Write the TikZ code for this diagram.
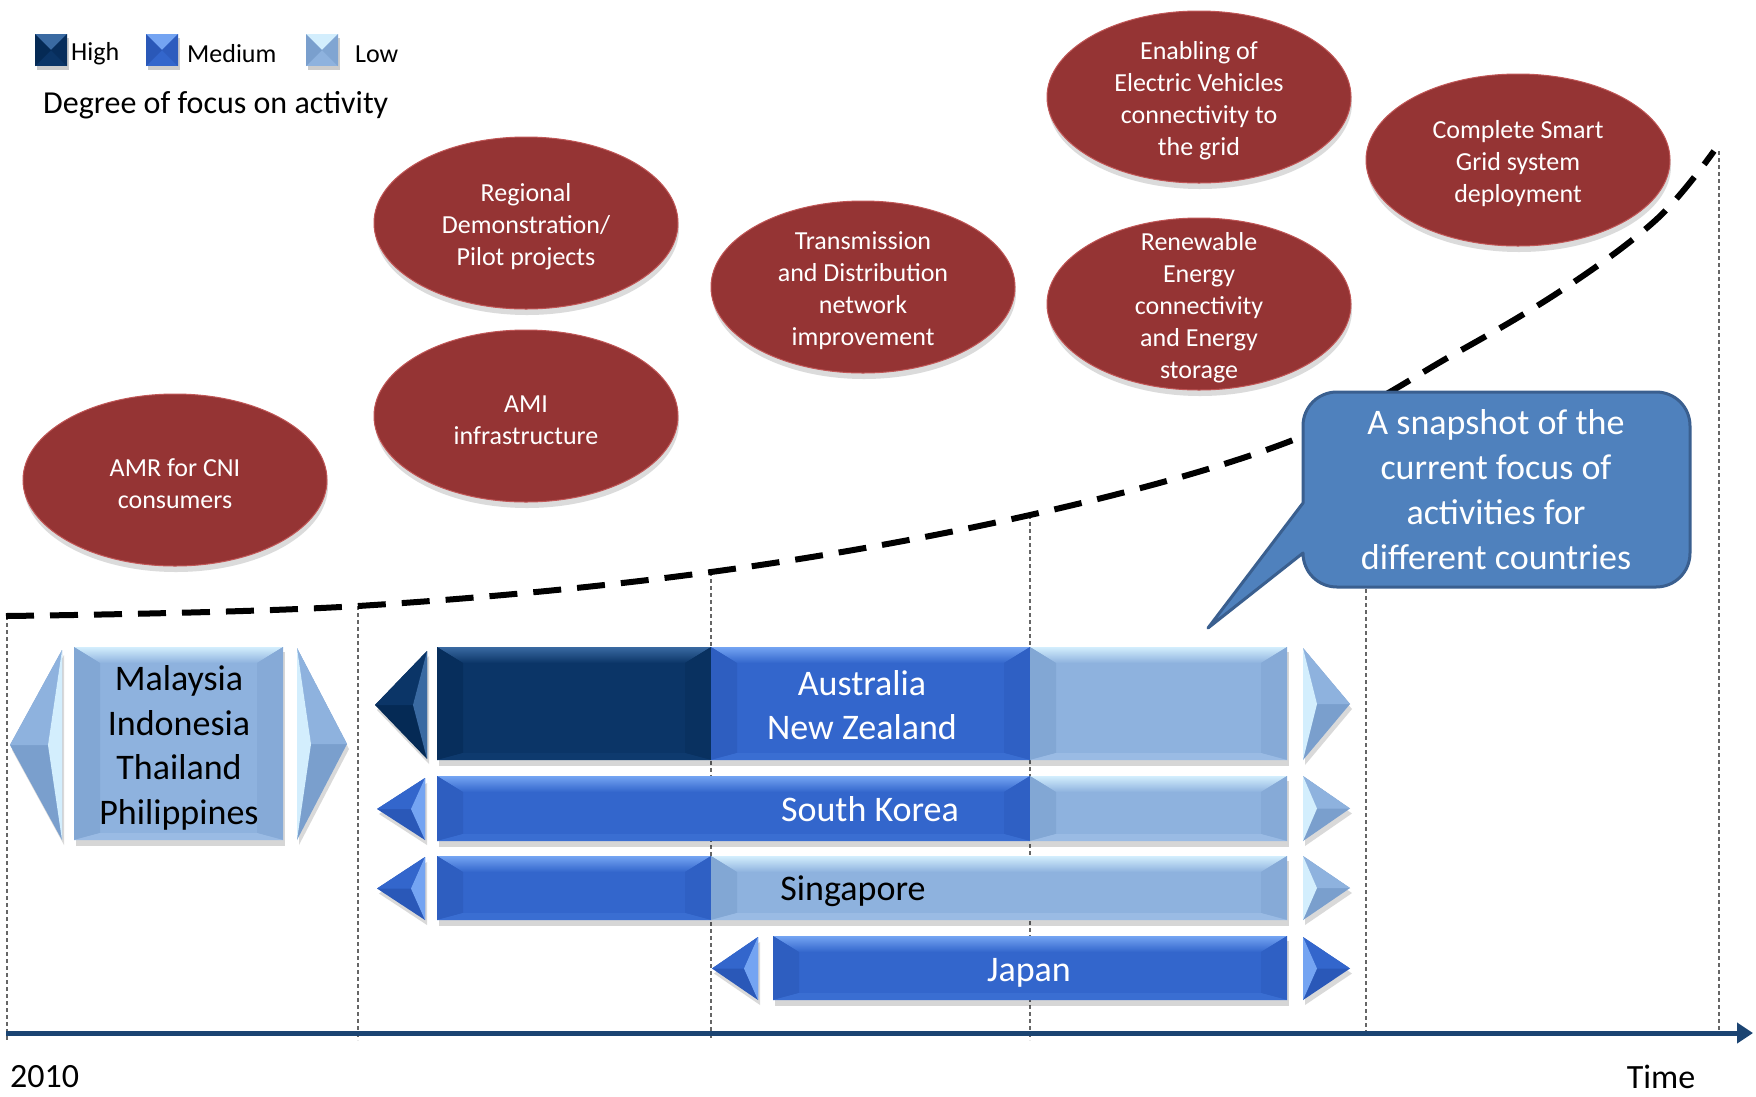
\documentclass[tikz,border=0pt]{standalone}
\usepackage{fontspec}
\setmainfont{Carlito}
\usetikzlibrary{arrows.meta,shadows,shapes.geometric}
\definecolor{HB}{HTML}{0B3567}\definecolor{HT}{HTML}{3A6AA2}\definecolor{HS}{HTML}{052A55}\definecolor{HD}{HTML}{0E3A6E}
\definecolor{MB}{HTML}{3366CC}\definecolor{MT}{HTML}{74A4F2}\definecolor{MS}{HTML}{2A58B8}\definecolor{MD}{HTML}{3A6ED2}
\definecolor{LB}{HTML}{8EB2DE}\definecolor{LT}{HTML}{D3EEFD}\definecolor{LS}{HTML}{7A9FCD}\definecolor{LD}{HTML}{9ABBE4}
\definecolor{ellC}{HTML}{953434}\definecolor{ellM}{HTML}{A23B3B}\definecolor{ellE}{HTML}{C05656}
\definecolor{axisc}{HTML}{1B4472}
\definecolor{cfill}{HTML}{4F81BD}\definecolor{cbord}{HTML}{3A5F8F}
\definecolor{vgray}{HTML}{666666}
\pgfdeclareradialshading{redball}{\pgfpoint{0bp}{0bp}}{color(0bp)=(ellC); color(36bp)=(ellC); color(47bp)=(ellM); color(50bp)=(ellE)}
\newcommand\BarSeg[5]{%
 \fill[black,opacity=.16] (#1+2,#3+5) rectangle (#2+2,#4+6);
 \fill[#5B] (#1,#3) rectangle (#2,#4);
 \shade[top color=#5T, bottom color=#5B] (#1,#3) -- (#2,#3) -- (#2-26,#3+16) -- (#1+26,#3+16) -- cycle;
 \fill[#5S!60!#5B] (#1,#3) -- (#1+26,#3+16) -- (#1+26,#4-7) -- (#1,#4) -- cycle;
 \fill[#5S!40!#5B] (#2,#3) -- (#2-26,#3+16) -- (#2-26,#4-7) -- (#2,#4) -- cycle;
 \fill[#5D] (#1,#4) -- (#1+26,#4-7) -- (#2-26,#4-7) -- (#2,#4) -- cycle;
}
\newcommand\ArrL[5]{%
 \fill[black,opacity=.15] (#2+2,#3+5) -- (#1+2,{(#3+#4)/2+5}) -- (#2+2,#4+5) -- cycle;
 \fill[#5S] (#2,#3) -- (#1,{(#3+#4)/2}) -- (#2,#4) -- cycle;
 \fill[#5B] (#2,#3) -- (#1,{(#3+#4)/2}) -- (#2-14,{(#3+#4)/2}) -- cycle;
 \fill[#5T] (#2,#3) -- (#2-14,{(#3+#4)/2}) -- (#2,#4) -- cycle;
}
\newcommand\ArrR[5]{%
 \fill[black,opacity=.15] (#1+2,#3+5) -- (#2+2,{(#3+#4)/2+5}) -- (#1+2,#4+5) -- cycle;
 \fill[#5S] (#1,#3) -- (#2,{(#3+#4)/2}) -- (#1,#4) -- cycle;
 \fill[#5B] (#1,#3) -- (#2,{(#3+#4)/2}) -- (#1+14,{(#3+#4)/2}) -- cycle;
 \fill[#5T] (#1,#3) -- (#1+14,{(#3+#4)/2}) -- (#1,#4) -- cycle;
}
\newcommand\LegBox[3]{%
 \fill[black,opacity=.2] (#1+2,#2+4) rectangle (#1+34,#2+36);
 \fill[#3B] (#1,#2) rectangle (#1+32,#2+32);
 \fill[#3T] (#1,#2) -- (#1+32,#2) -- (#1+16,#2+16) -- cycle;
 \fill[#3S] (#1,#2) -- (#1+16,#2+16) -- (#1,#2+32) -- cycle;
 \fill[#3S!70!#3B] (#1+32,#2) -- (#1+16,#2+16) -- (#1+32,#2+32) -- cycle;
}
\tikzset{
 redell/.style={ellipse, minimum width=304pt, minimum height=172pt, inner sep=0pt, shade, shading=redball, draw=ellE, line width=1pt, drop shadow={shadow xshift=1pt, shadow yshift=-6pt, opacity=.2, fill=black!70}},
 etext/.style={text=white, align=center, inner sep=0pt, font=\fontsize{26}{32}\selectfont, yshift=-4pt},
 bartext/.style={align=center, inner sep=0pt, font=\fontsize{36}{44.5}\selectfont},
 legt/.style={anchor=west, inner sep=0pt, font=\fontsize{26}{30}\selectfont},
 vline/.style={vgray, line width=1.1pt, dash pattern=on 4pt off 3pt},
}
\begin{document}
\begin{tikzpicture}[x=1pt,y=-1pt]
\useasboundingbox[fill=white] (0,0) rectangle (1756,1096);
% legend
\LegBox{35}{34}{H}
\LegBox{146}{34}{M}
\LegBox{306}{34}{L}
\node[legt] (lh) at (71,54) {High};
\node[legt] (lm) at (187,54) {Medium};
\node[legt] (ll) at (355,54) {Low};
\node[anchor=west, inner sep=0pt, font=\fontsize{32}{38}\selectfont] (deg) at (43,105) {Degree of focus on activity};
% vertical guide lines
\draw[vline] (7,616) -- (7,1042);
\draw[vline] (358,606) -- (358,1040);
\draw[vline] (711,572) -- (711,1040);
\draw[vline] (1030,515) -- (1030,1040);
\draw[vline] (1366,400) -- (1366,1036);
\draw[vline] (1719,151) -- (1719,1036);
% dashed curve
\draw[line width=6pt, dash pattern=on 28pt off 16pt] plot[smooth, tension=0.6] coordinates {(6,616) (358,606) (711,572) (1030,515) (1288,442) (1456,353) (1568,286) (1658,218) (1714,151)};
% ellipses
\node[redell] (amr) at (175,480) {};
\node[etext] (tamr) at (amr) {AMR for CNI\\consumers};
\node[redell] (reg) at (526,223) {};
\node[etext] (treg) at (reg) {Regional\\Demonstration/\\Pilot projects};
\node[redell] (ami) at (526,416) {};
\node[etext] (tami) at (ami) {AMI\\infrastructure};
\node[redell] (tnd) at (863,287) {};
\node[etext] (ttnd) at (tnd) {Transmission\\and Distribution\\network\\improvement};
\node[redell] (ev) at (1199,97) {};
\node[etext] (tev) at (ev) {Enabling of\\Electric Vehicles\\connectivity to\\the grid};
\node[redell] (ren) at (1199,304) {};
\node[etext] (tren) at (ren) {Renewable\\Energy\\connectivity\\and Energy\\storage};
\node[redell] (csg) at (1518,160) {};
\node[etext] (tcsg) at (csg) {Complete Smart\\Grid system\\deployment};
% callout
\path[fill=cfill, draw=cbord, line width=3pt, line join=round]
 (1303,503) -- (1208,628) -- (1303,553) -- (1303,553)
 .. controls (1303,572) and (1318,587) .. (1337,587) -- (1656,587)
 .. controls (1675,587) and (1690,572) .. (1690,553) -- (1690,426)
 .. controls (1690,407) and (1675,392) .. (1656,392) -- (1337,392)
 .. controls (1318,392) and (1303,407) .. (1303,426) -- cycle;
\node[text=white, align=center, inner sep=0pt, font=\fontsize{36}{45}\selectfont] (snap) at (1496,490) {A snapshot of the\\current focus of\\activities for\\different countries};
% Malaysia group
\ArrL{10}{62}{650}{840}{L}
\BarSeg{74}{283}{647}{840}{L}
\ArrR{297}{347}{648}{840}{L}
\node[bartext] (mal) at (179,748) {Malaysia\\Indonesia\\Thailand\\Philippines};
% Australia
\ArrL{375}{427}{651}{759}{H}
\BarSeg{437}{711}{647}{760}{H}
\BarSeg{711}{1030}{647}{760}{M}
\BarSeg{1030}{1287}{647}{760}{L}
\ArrR{1303}{1350}{648}{760}{L}
\node[bartext, text=white] (aus) at (862,705) {Australia\\New Zealand};
% South Korea
\ArrL{377}{425}{778}{840}{M}
\BarSeg{437}{1030}{776}{841}{M}
\BarSeg{1030}{1287}{776}{841}{L}
\ArrR{1303}{1350}{776}{841}{L}
\node[bartext, text=white] (sk) at (870,809) {South Korea};
% Singapore
\ArrL{377}{425}{857}{920}{M}
\BarSeg{437}{711}{856}{920}{M}
\BarSeg{711}{1287}{856}{920}{L}
\ArrR{1303}{1350}{856}{920}{L}
\node[bartext] (sg) at (853,891) {Singapore};
% Japan
\ArrL{712}{758}{937}{1000}{M}
\BarSeg{773}{1287}{936}{1000}{M}
\ArrR{1303}{1350}{937}{1000}{M}
\node[bartext, text=white] (jp) at (1029,973) {Japan};
% axis
\coordinate (ax0) at (6,1033);
\coordinate (ax1) at (1753,1033);
\draw[axisc, line width=5pt, -{Triangle[length=16pt,width=20pt]}] (ax0) -- (ax1);
\node[anchor=west, inner sep=0pt, font=\fontsize{34}{40}\selectfont] (y2010) at (10,1077) {2010};
\node[inner sep=0pt, font=\fontsize{34}{40}\selectfont] (time) at (1661,1077) {Time};
\end{tikzpicture}
\end{document}
